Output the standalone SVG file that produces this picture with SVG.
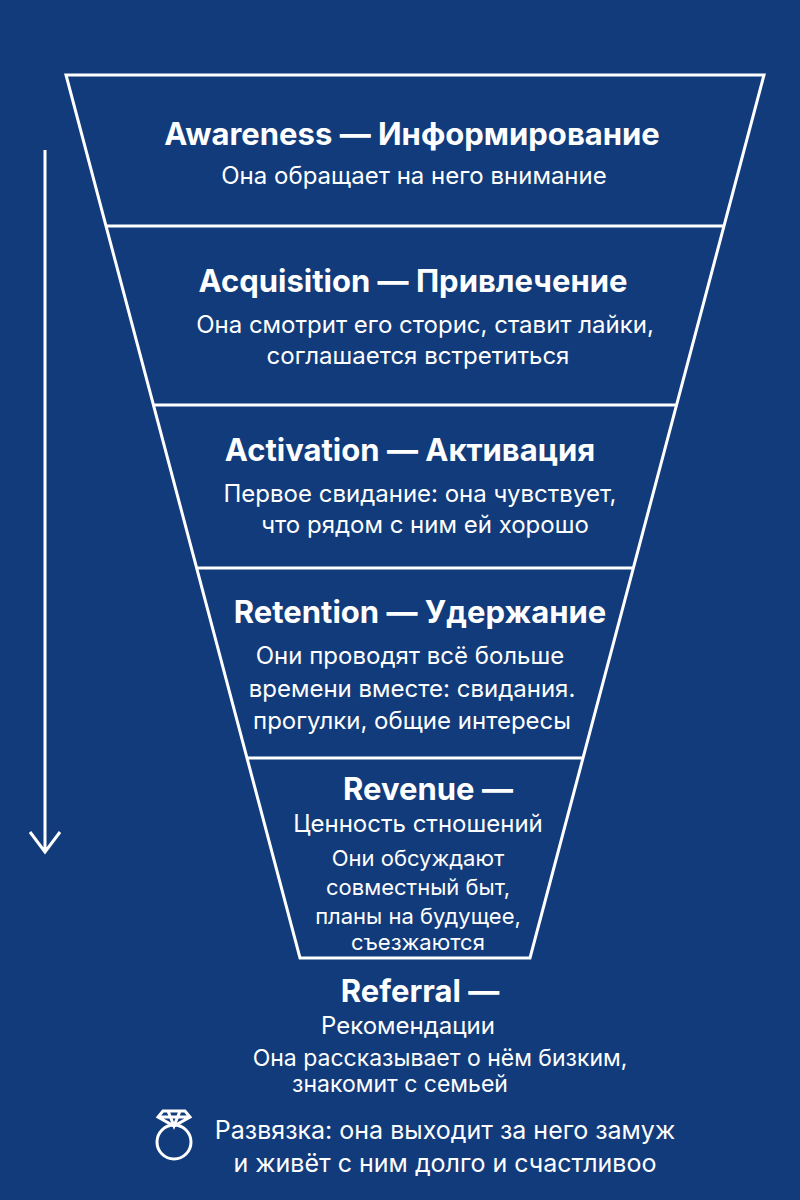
<svg xmlns="http://www.w3.org/2000/svg" width="800" height="1200" viewBox="0 0 800 1200">
<defs><style>
.t{font-family:Inter,"Liberation Sans",sans-serif;fill:#fff;font-weight:bold;font-size:31px;text-anchor:middle}
.s{font-family:Inter,"Liberation Sans",sans-serif;fill:#fff;font-size:24px;text-anchor:middle}
.ln{stroke:#fff;stroke-width:3;fill:none}
</style></defs>
<rect width="800" height="1200" fill="#123b7b"/>
<g id="connectors">
<path class="ln" d="M66 75 L764 75 L530 958 L300 958 Z"/>
<path class="ln" d="M106 226 L725 226 M153 405 L677 405 M196 568 L634 568 M246 758 L583 758"/>
<path class="ln" d="M45 150 V852 M30 832 L45 852 L60 832"/>
</g>
<g id="awareness"><text class="t" x="412" y="145">Awareness — Информирование</text><text class="s" x="414" y="184">Она обращает на него внимание</text></g>
<g id="acquisition"><text class="t" x="413" y="292">Acquisition — Привлечение</text><text class="s" x="425" y="333">Она смотрит его сторис, ставит лайки,</text><text class="s" x="418" y="364">соглашается встретиться</text></g>
<g id="activation"><text class="t" x="410" y="461">Activation — Активация</text><text class="s" x="420" y="502">Первое свидание: она чувствует,</text><text class="s" x="425" y="533">что рядом с ним ей хорошо</text></g>
<g id="retention"><text class="t" x="420" y="623">Retention — Удержание</text><text class="s" x="410" y="664">Они проводят всё больше</text><text class="s" x="412" y="697">времени вместе: свидания.</text><text class="s" x="412" y="729">прогулки, общие интересы</text></g>
<g id="revenue"><text class="t" x="428" y="800">Revenue —</text><text class="s" x="418" y="832">Ценность стношений</text><text class="s" x="418" y="866" style="font-size:22px">Они обсуждают</text><text class="s" x="418" y="895" style="font-size:22px">совместный быт,</text><text class="s" x="418" y="924" style="font-size:22px">планы на будущее,</text><text class="s" x="418" y="950" style="font-size:22px">съезжаются</text></g>
<g id="referral"><text class="t" x="420" y="1002">Referral —</text><text class="s" x="408" y="1034">Рекомендации</text><text class="s" x="440" y="1066" style="font-size:23px">Она рассказывает о нём бизким,</text><text class="s" x="400" y="1092" style="font-size:23px">знакомит с семьей</text></g>
<g id="final">
<circle cx="174" cy="1142" r="17" class="ln" stroke-width="4"/>
<path d="M163 1111 L185 1111 L190 1117 L174 1126 L158 1117 Z M158 1117 H190 M168 1111 L174 1126 L180 1111" class="ln" stroke-width="2.5"/>
<text class="s" x="445" y="1139" style="font-size:25px">Развязка: она выходит за него замуж</text>
<text class="s" x="445" y="1172" style="font-size:25px">и живёт с ним долго и счастливоо</text>
</g>
</svg>
